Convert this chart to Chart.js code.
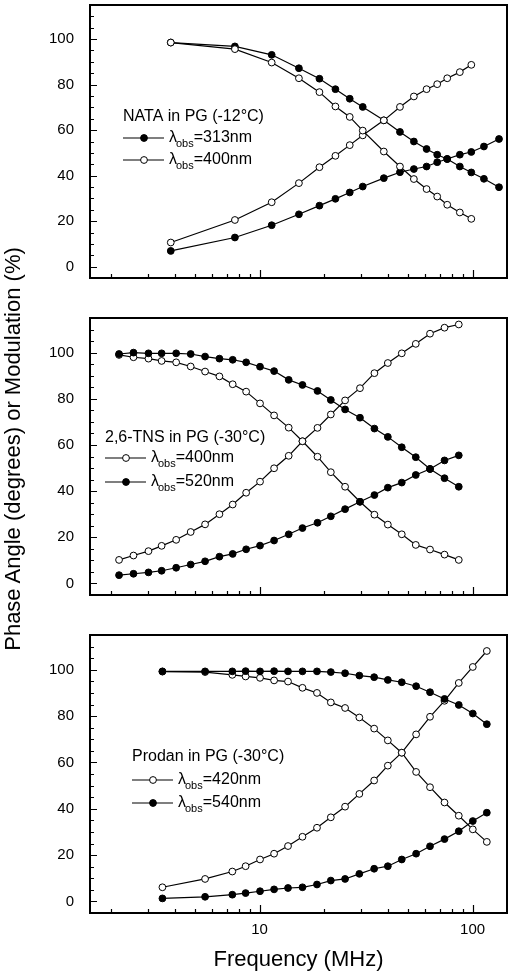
<!DOCTYPE html>
<html>
<head>
<meta charset="utf-8">
<script src="https://cdn.jsdelivr.net/npm/chart.js@4.4.0/dist/chart.umd.min.js"></script>
<style>
  body { margin: 0; background: #fff; width: 515px; height: 975px; position: relative; overflow: hidden; }
  canvas { position: absolute; left: 0; }
  #ytitle {
    position: absolute; left: -237px; top: 436px; width: 500px; height: 26px;
    line-height: 26px; text-align: center; transform: rotate(-90deg);
    font: 22px 'Liberation Sans', Arial, sans-serif; color: #000; z-index: 2;
  }
</style>
</head>
<body>
<canvas id="p1" width="515" height="300" style="top:0px"></canvas>
<canvas id="p2" width="515" height="300" style="top:310px"></canvas>
<canvas id="p3" width="515" height="355" style="top:620px"></canvas>
<div id="ytitle">Phase Angle (degrees) or Modulation (%)</div>
<script>
// ── Axis ticks ─────────────────────────────────────────
const yTickValues = [0, 20, 40, 60, 80, 100];
const xTickValues = [10, 100];
const xMinorValues = [2, 3, 4, 5, 6, 7, 8, 9, 20, 30, 40, 50, 60, 70, 80, 90];

// ── Panel 1: NATA in PG (-12°C) ────────────────────────
const freq1 = [3.83, 7.66, 11.4, 15.3, 19.1, 22.7, 26.5, 30.5, 38.3, 45.6, 53.0, 60.8, 68.2, 76.0, 87.1, 98.6, 113, 133];
const mod313 = [98.5, 96.8, 93.1, 87.2, 82.6, 78.0, 73.8, 70.2, 64.3, 59.2, 55.0, 51.7, 49.2, 47.3, 44.0, 41.4, 38.6, 34.9];
const phase313 = [6.9, 12.8, 18.2, 23.0, 26.8, 29.8, 32.6, 35.2, 38.9, 41.5, 42.9, 44.0, 45.9, 47.3, 49.2, 50.4, 52.8, 56.1];
const mod400a = [98.5, 95.6, 89.7, 82.8, 76.7, 70.4, 65.8, 59.8, 50.6, 44.0, 38.5, 34.1, 30.8, 27.2, 23.8, 21.0];
const phase400a = [10.6, 20.5, 28.3, 36.7, 43.7, 48.7, 53.4, 57.7, 64.3, 70.2, 74.8, 78.0, 80.2, 82.8, 85.5, 88.7];

// ── Panel 2: 2,6-TNS in PG (-30°C) ─────────────────────
const freq2 = [2.19, 2.56, 3.01, 3.47, 4.06, 4.75, 5.55, 6.48, 7.48, 8.65, 10.05, 11.7, 13.7, 15.9, 18.7, 21.6, 25.2, 29.6, 34.6, 40.0, 46.5, 54.1, 63.1, 73.8, 86.1];
const mod400b = [99.0, 98.0, 97.4, 96.4, 95.8, 94.0, 91.8, 89.7, 86.3, 83.1, 78.0, 72.8, 67.5, 61.6, 54.9, 48.2, 41.9, 35.4, 29.8, 25.5, 21.3, 16.7, 14.7, 12.5, 10.2];
const phase400b = [10.2, 12.1, 14.0, 16.3, 18.9, 22.3, 25.6, 30.0, 34.2, 39.3, 44.1, 49.9, 55.3, 61.6, 67.4, 73.2, 79.3, 84.6, 91.1, 95.5, 99.7, 103.8, 108.2, 110.8, 112.2];
const mod520 = [99.4, 100.0, 99.7, 99.7, 99.7, 99.4, 98.3, 97.4, 96.9, 95.8, 93.9, 92.0, 88.2, 86.0, 83.4, 79.5, 75.4, 71.8, 67.1, 63.5, 59.0, 54.7, 49.6, 45.6, 41.9];
const phase520 = [3.6, 4.2, 4.8, 5.5, 6.8, 8.2, 9.6, 11.6, 12.8, 14.8, 16.4, 18.6, 21.3, 24.0, 26.3, 29.1, 32.2, 35.4, 38.3, 41.5, 43.7, 47.0, 49.6, 53.3, 55.5];

// ── Panel 3: Prodan in PG (-30°C) ──────────────────────
const freq3 = [3.5, 5.55, 7.45, 8.6, 10.05, 11.7, 13.6, 15.9, 18.6, 21.6, 25.2, 29.4, 34.5, 40.0, 46.5, 54.3, 63.1, 73.8, 86.1, 100.2, 116.6];
const mod540 = [99.3, 99.3, 99.3, 99.4, 99.3, 99.4, 99.3, 99.3, 99.3, 99.0, 98.5, 97.5, 96.8, 95.6, 94.6, 92.9, 90.3, 87.4, 84.8, 81.1, 76.5];
const phase540 = [1.3, 2.0, 2.9, 3.6, 4.4, 5.2, 5.8, 6.1, 7.3, 9.0, 9.7, 11.9, 14.1, 15.2, 18.1, 20.6, 23.8, 26.9, 30.3, 34.7, 38.3];
const mod420 = [99.2, 99.0, 97.8, 97.1, 96.5, 95.4, 94.9, 92.2, 90.0, 85.9, 83.5, 79.4, 74.6, 69.5, 64.2, 55.9, 49.3, 42.7, 37.0, 31.1, 25.7];
const phase420 = [6.1, 9.7, 12.9, 15.2, 18.1, 20.6, 23.9, 27.9, 31.8, 36.3, 40.9, 46.4, 52.2, 58.6, 64.2, 72.1, 79.7, 86.6, 94.3, 101.2, 108.1];

// ── Legend text ────────────────────────────────────────
const legendTitles = ['NATA in PG (-12°C)', '2,6-TNS in PG (-30°C)', 'Prodan in PG (-30°C)'];
const legendWaves = [['313nm', '400nm'], ['400nm', '520nm'], ['420nm', '540nm']];

const FONT = "'Liberation Sans', Arial, sans-serif";

function pts(xs, ys) {
  return ys.map((y, i) => ({ x: xs[i], y }));
}

function series(xs, ys, filled) {
  return {
    data: pts(xs, ys),
    borderColor: '#000',
    borderWidth: 1.2,
    backgroundColor: filled ? '#000' : '#fff',
    pointBackgroundColor: filled ? '#000' : '#fff',
    pointBorderColor: '#000',
    pointBorderWidth: 1,
    pointRadius: 3.4,
    pointHoverRadius: 3.4,
    tension: 0,
    fill: false
  };
}

// frame + inward ticks + custom legend
const framePlugin = {
  id: 'frame',
  afterDraw(chart, args, opts) {
    const { ctx, chartArea: a, scales } = chart;
    const x = scales.x, y = scales.y;
    ctx.save();
    ctx.strokeStyle = '#000';
    ctx.lineWidth = 1.2;
    ctx.beginPath();
    for (let v = -5; v <= 110; v += 5) {
      if (v <= y.min || v >= y.max) continue;
      const py = Math.round(y.getPixelForValue(v)) + 0.5;
      const len = yTickValues.includes(v) ? 7 : 4;
      ctx.moveTo(a.left, py);
      ctx.lineTo(a.left + len, py);
    }
    xTickValues.concat(xMinorValues).forEach(v => {
      const px = Math.round(x.getPixelForValue(v)) + 0.5;
      const len = xTickValues.includes(v) ? 8 : 4;
      ctx.moveTo(px, a.bottom);
      ctx.lineTo(px, a.bottom - len);
    });
    ctx.stroke();

    ctx.lineWidth = 2;
    ctx.strokeRect(a.left, a.top, a.right - a.left, a.bottom - a.top);

    // legend
    const L = opts.legend;
    ctx.fillStyle = '#000';
    ctx.textBaseline = 'middle';
    ctx.textAlign = 'left';
    ctx.font = '16px ' + FONT;
    ctx.fillText(L.title, L.x, L.titleY);
    L.rows.forEach(r => {
      ctx.lineWidth = 1.2;
      ctx.beginPath();
      ctx.moveTo(L.x, r.y);
      ctx.lineTo(L.x + 41, r.y);
      ctx.stroke();
      ctx.beginPath();
      ctx.arc(L.x + 21, r.y, 3.4, 0, Math.PI * 2);
      ctx.fillStyle = r.filled ? '#000' : '#fff';
      ctx.fill();
      ctx.lineWidth = 1;
      ctx.stroke();
      ctx.fillStyle = '#000';
      let tx = L.x + 46;
      ctx.font = '16px ' + FONT;
      ctx.fillText('λ', tx, r.y);
      tx += ctx.measureText('λ').width;
      ctx.font = '11px ' + FONT;
      ctx.fillText('obs', tx - 1, r.y + 6);
      tx += ctx.measureText('obs').width - 1;
      ctx.font = '16px ' + FONT;
      ctx.fillText('=' + r.text, tx, r.y);
    });
    ctx.restore();
  }
};

function makePanel(id, datasets, legend, layout) {
  return new Chart(document.getElementById(id), {
    type: 'line',
    data: { datasets },
    options: {
      responsive: false,
      animation: false,
      events: [],
      layout: { padding: { left: 0, right: 8, top: layout.top, bottom: 0 } },
      plugins: {
        legend: { display: false },
        tooltip: { enabled: false },
        frame: { legend }
      },
      scales: {
        x: {
          type: 'logarithmic',
          min: 1.6,
          max: 145,
          afterBuildTicks: s => { s.ticks = xTickValues.map(v => ({ value: v })); },
          afterFit: s => { s.height = layout.xHeight; s.paddingLeft = 0; s.paddingRight = 0; },
          grid: { display: false },
          border: { display: false },
          ticks: {
            display: layout.xLabels,
            padding: 0,
            color: '#000',
            font: { family: FONT, size: 15 },
            callback: v => String(v)
          },
          title: {
            display: layout.xLabels,
            text: 'Frequency (MHz)',
            color: '#000',
            font: { family: FONT, size: 22 },
            padding: { top: 0, bottom: 2 }
          }
        },
        y: {
          min: -5,
          max: 115,
          afterBuildTicks: s => { s.ticks = yTickValues.map(v => ({ value: v })); },
          afterFit: s => { s.width = 90; s.paddingTop = 0; s.paddingBottom = 0; },
          grid: { display: false },
          border: { display: false },
          ticks: {
            padding: 8,
            color: '#000',
            font: { family: FONT, size: 15 },
            callback: v => String(v)
          }
        }
      }
    },
    plugins: [framePlugin]
  });
}

// panel 1: open symbols drawn on top
makePanel('p1', [
  series(freq1.slice(0, 16), mod400a, false),
  series(freq1.slice(0, 16), phase400a, false),
  series(freq1, mod313, true),
  series(freq1, phase313, true)
], {
  title: legendTitles[0], x: 123, titleY: 117,
  rows: [
    { y: 138, filled: true, text: legendWaves[0][0] },
    { y: 160, filled: false, text: legendWaves[0][1] }
  ]
}, { top: 5, xHeight: 22, xLabels: false });

// panel 2: filled symbols on top
makePanel('p2', [
  series(freq2, mod520, true),
  series(freq2, phase520, true),
  series(freq2, mod400b, false),
  series(freq2, phase400b, false)
], {
  title: legendTitles[1], x: 105, titleY: 128,
  rows: [
    { y: 148, filled: false, text: legendWaves[1][0] },
    { y: 172, filled: true, text: legendWaves[1][1] }
  ]
}, { top: 8, xHeight: 15, xLabels: false });

// panel 3: filled symbols on top
makePanel('p3', [
  series(freq3, mod540, true),
  series(freq3, phase540, true),
  series(freq3, mod420, false),
  series(freq3, phase420, false)
], {
  title: legendTitles[2], x: 132, titleY: 137,
  rows: [
    { y: 160, filled: false, text: legendWaves[2][0] },
    { y: 183, filled: true, text: legendWaves[2][1] }
  ]
}, { top: 15, xHeight: 62, xLabels: true });
</script>
</body>
</html>
